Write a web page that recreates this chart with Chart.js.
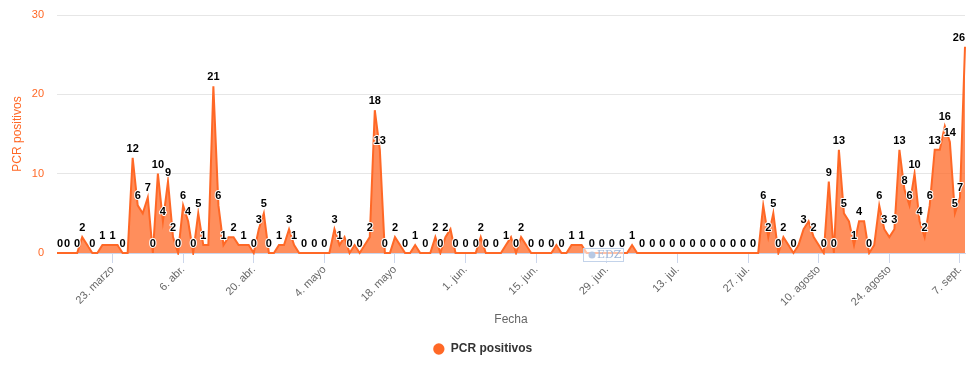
<!DOCTYPE html>
<html lang="es">
<head>
<meta charset="UTF-8">
<title>PCR positivos</title>
<script src="https://cdn.jsdelivr.net/npm/chart.js"></script>
<style>
  body { margin: 0; background: #fff; }
  .chart-box { position: relative; width: 980px; height: 373px; }
</style>
</head>
<body>
<div class="chart-box"><canvas id="pcrChart"></canvas></div>
<script>
// one value per day, starting 12 march
const startDate = '2020-03-12';
const pcrPositivos = [
  0, 0, 0, 0, 0, 2, 1, 0, 0, 1,
  1, 1, 1, 0, 0, 12, 6, 5, 7, 0,
  10, 4, 9, 2, 0, 6, 4, 0, 5, 1,
  1, 21, 6, 1, 2, 2, 1, 1, 1, 0,
  3, 5, 0, 0, 1, 1, 3, 1, 0, 0,
  0, 0, 0, 0, 0, 3, 1, 2, 0, 1,
  0, 1, 2, 18, 13, 0, 0, 2, 1, 0,
  0, 1, 0, 0, 0, 2, 0, 2, 3, 0,
  0, 0, 0, 0, 2, 0, 0, 0, 0, 1,
  2, 0, 2, 1, 0, 0, 0, 0, 0, 1,
  0, 0, 1, 1, 1, 0, 0, 0, 0, 0,
  0, 0, 0, 0, 1, 0, 0, 0, 0, 0,
  0, 0, 0, 0, 0, 0, 0, 0, 0, 0,
  0, 0, 0, 0, 0, 0, 0, 0, 0, 0,
  6, 2, 5, 0, 2, 1, 0, 1, 3, 4,
  2, 1, 0, 9, 0, 13, 5, 4, 1, 4,
  4, 0, 1, 6, 3, 2, 3, 13, 8, 6,
  10, 4, 2, 6, 13, 13, 16, 14, 5, 7,
  26
];
const tickDays = [11, 25, 39, 53, 67, 81, 95, 109, 123, 137, 151, 165, 179];
const tickLabels = ['23. marzo', '6. abr.', '20. abr.', '4. mayo', '18. mayo', '1. jun.',
  '15. jun.', '29. jun.', '13. jul.', '27. jul.', '10. agosto', '24. agosto', '7. sept.'];
const yMax = 30;

const orange = 'rgb(255,104,38)';
const orangeFill = 'rgba(255,104,38,0.75)';

const fechas = pcrPositivos.map((v, i) => {
  const d = new Date(startDate + 'T00:00:00Z');
  d.setUTCDate(d.getUTCDate() + i);
  return d.toISOString().slice(0, 10);
});

Chart.defaults.font.family = '"Liberation Sans", Arial, sans-serif';

// highcharts style labels, overlapping ones are dropped
const pointLabels = {
  id: 'pointLabels',
  afterDatasetsDraw(chart) {
    const ctx = chart.ctx;
    const area = chart.chartArea;
    const meta = chart.getDatasetMeta(0);
    const values = chart.data.datasets[0].data;
    const kept = [];
    ctx.save();
    ctx.font = 'bold 11px "Liberation Sans", Arial, sans-serif';
    ctx.textAlign = 'left';
    ctx.textBaseline = 'alphabetic';
    ctx.lineJoin = 'round';
    meta.data.forEach((pt, i) => {
      const txt = String(values[i]);
      const w = ctx.measureText(txt).width;
      let x = pt.x - w / 2;
      if (x < area.left) x = area.left;
      if (x + w > area.right) x = area.right - w;
      const base = pt.y - 6;
      const box = {l: x, r: x + w, t: base - 10, b: base + 2};
      const hit = kept.some(k => box.l < k.r && box.r > k.l && box.t < k.b && box.b > k.t);
      if (hit) return;
      kept.push(box);
      ctx.strokeStyle = '#fff';
      ctx.lineWidth = 2;
      ctx.strokeText(txt, x, base);
      ctx.fillStyle = '#000';
      ctx.fillText(txt, x, base);
    });
    ctx.restore();
  }
};

// small credits stamp sitting on the x axis
const stamp = {
  id: 'stamp',
  afterDraw(chart) {
    const ctx = chart.ctx;
    ctx.save();
    ctx.fillStyle = 'rgba(255,255,255,0.6)';
    ctx.fillRect(583.5, 248.5, 40, 13);
    ctx.strokeStyle = '#c3d3ea';
    ctx.lineWidth = 1;
    ctx.strokeRect(583.5, 248.5, 40, 13);
    ctx.beginPath();
    ctx.arc(592, 255, 3.5, 0, Math.PI * 2);
    ctx.fillStyle = '#b7c9e4';
    ctx.fill();
    ctx.font = '11px "DejaVu Serif", serif';
    ctx.fillStyle = '#9fb6d8';
    ctx.textBaseline = 'middle';
    ctx.fillText('EDZ', 597, 255.5);
    ctx.restore();
  }
};

new Chart(document.getElementById('pcrChart'), {
  type: 'line',
  data: {
    labels: fechas,
    datasets: [{
      label: 'PCR positivos',
      data: pcrPositivos,
      borderColor: orange,
      backgroundColor: orangeFill,
      borderWidth: 2,
      fill: 'origin',
      tension: 0,
      pointRadius: 0,
      pointHoverRadius: 0,
      clip: { left: 0, top: 2, right: 2, bottom: 2 }
    }]
  },
  options: {
    responsive: true,
    maintainAspectRatio: false,
    animation: false,
    layout: { padding: { top: 15, right: 15, bottom: 8, left: 0 } },
    plugins: {
      tooltip: { enabled: false },
      legend: {
        position: 'bottom',
        labels: {
          usePointStyle: true,
          pointStyle: 'circle',
          boxWidth: 12,
          boxHeight: 8,
          padding: 10,
          color: '#333',
          font: { size: 12, weight: 'bold' },
          generateLabels(chart) {
            const items = Chart.defaults.plugins.legend.labels.generateLabels(chart);
            items.forEach(it => { it.fillStyle = orange; it.strokeStyle = orange; it.lineWidth = 0; });
            return items;
          }
        }
      }
    },
    scales: {
      x: {
        type: 'category',
        offset: false,
        afterBuildTicks(scale) {
          scale.ticks = scale.ticks.filter(t => tickDays.includes(t.value));
        },
        afterFit(scale) { scale.height = 80; },
        ticks: {
          autoSkip: false,
          maxRotation: 45,
          minRotation: 45,
          padding: 0,
          color: '#666',
          font: { size: 11 },
          callback(value) { return tickLabels[tickDays.indexOf(value)]; }
        },
        grid: {
          drawOnChartArea: false,
          drawTicks: true,
          tickLength: 10,
          tickColor: '#ccd6eb'
        },
        border: { display: true, color: '#ccd6eb' },
        title: {
          display: true,
          text: 'Fecha',
          color: '#666',
          font: { size: 12 },
          padding: { top: 4, bottom: 6 }
        }
      },
      y: {
        min: 0,
        max: yMax,
        afterFit(scale) {
          scale.width = 57;
          scale.paddingTop = 0;
          scale.paddingBottom = 0;
        },
        ticks: {
          stepSize: 10,
          padding: 13,
          color: orange,
          font: { size: 11 }
        },
        grid: { color: '#e6e6e6', drawTicks: false },
        border: { display: false },
        title: {
          display: true,
          text: 'PCR positivos',
          color: orange,
          font: { size: 12 },
          padding: { top: 10, bottom: 4 }
        }
      }
    }
  },
  plugins: [pointLabels, stamp]
});
</script>
</body>
</html>
